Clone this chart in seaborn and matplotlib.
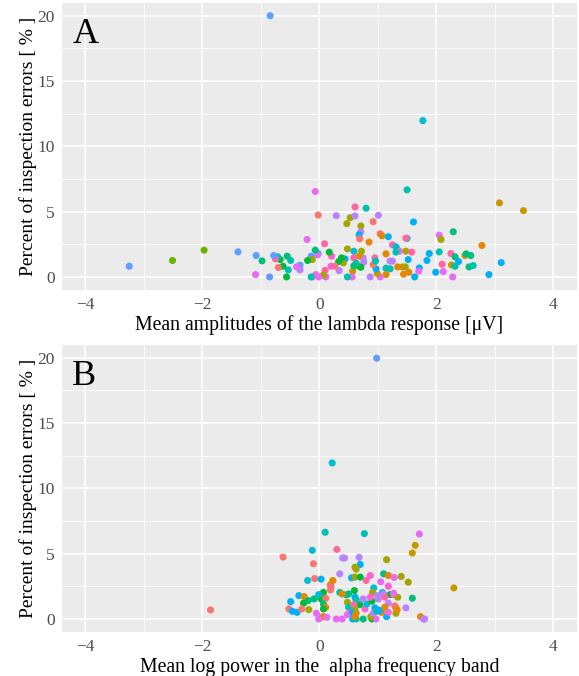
import numpy as np
import pandas as pd
import seaborn as sns
import matplotlib.pyplot as plt
from matplotlib.ticker import MultipleLocator

# ggplot2 hue_pal()(15), one colour per subject
subject_colors = ['#F8766D', '#E58700', '#C99800', '#A3A500', '#6BB100',
                  '#00BA38', '#00BF7D', '#00C0AF', '#00BCD8', '#00B0F6',
                  '#619CFF', '#B983FF', '#E76BF3', '#FD61D1', '#FF67A4']
subjects = [f'S{i + 1:02d}' for i in range(len(subject_colors))]

# Panel A: lambda response amplitude vs inspection errors
a_x = [-0.84, 1.77, -0.07, 1.50, 3.08, 3.49, 0.61, 0.80, -0.02, 0.29,
       0.53, 0.61, 1.01, 0.92, 0.47, 1.61, 0.71, 0.71, 0.68, 0.69,
       0.85, 1.04, 1.07, 1.18, 1.50, 1.48, -0.21, 0.09, 1.25, 1.31,
       1.33, 1.37, 1.48, 1.58, 2.05, 2.08, 2.29, 2.78, 1.88, 2.05,
       2.25, 2.32, 2.49, 2.51, 2.59, 1.84, 2.10, 2.26, 2.32, 2.38,
       2.56, 2.63, 3.11, 2.90, 1.99, 2.12, 2.28, 1.63, 1.71, 1.52,
       1.42, 1.34, 1.47, 1.44, 1.53, 1.14, 1.21, 1.25, 1.14, 1.21,
       1.14, 1.04, 0.99, 0.97, 0.95, 0.92, 0.87, 0.76, 0.75, 0.68,
       0.67, 0.71, 0.72, 0.59, 0.59, 0.57, 0.56, 0.48, 0.48, 0.44,
       0.41, 0.38, 0.33, 0.34, 0.27, 0.20, 0.21, 0.17, 0.10, 0.11,
       0.07, -0.02, -0.03, -0.07, -0.06, -0.12, -0.14, -0.01, -0.14, -0.12,
       -0.20, -0.33, -0.33, -0.39, -0.49, -0.53, -0.55, -0.56, -0.62, -0.67,
       -0.71, -0.70, -0.75, -0.78, -0.85, -0.98, -1.08, -1.09, -1.39, -1.97,
       -2.51, -3.25, 1.70, 1.31, 0.63, 0.59, 0.96]
a_y = [20.0, 11.97, 6.54, 6.67, 5.67, 5.08, 5.36, 5.26, 4.74, 4.69,
       4.54, 4.67, 4.72, 4.23, 4.08, 4.21, 3.90, 3.46, 3.23, 2.92,
       2.67, 3.31, 3.15, 3.08, 2.95, 2.97, 2.87, 2.54, 2.46, 2.31,
       2.10, 1.97, 1.97, 1.90, 3.20, 2.87, 3.46, 2.41, 1.79, 1.92,
       1.79, 1.54, 1.64, 1.77, 1.64, 1.26, 0.97, 0.92, 0.82, 1.18,
       0.77, 0.87, 1.10, 0.18, 0.36, 0.41, 0.00, 0.00, 0.69, 1.33,
       0.77, 0.77, 0.77, 0.21, 0.36, 1.77, 1.21, 1.21, 0.67, 0.62,
       0.18, 0.00, 0.26, 0.62, 1.46, 0.95, 0.00, 1.13, 1.46, 1.59,
       0.82, 0.74, 1.97, 1.97, 1.46, 0.44, 0.00, 0.00, 2.15, 1.38,
       1.08, 1.46, 1.18, 0.49, 0.82, 0.82, 1.59, 1.90, 0.51, 0.00,
       0.15, 1.79, 1.69, 2.05, 0.18, 0.00, 0.00, 0.00, 1.59, 1.33,
       1.26, 0.90, 0.54, 0.77, 1.26, 0.54, 1.59, 0.00, 0.82, 1.33,
       1.54, 0.72, 1.38, 1.64, 0.00, 1.23, 1.64, 0.18, 1.92, 2.05,
       1.26, 0.82, 0.44, 1.90, 1.05, 0.85, 1.21]
a_subj = [10, 8, 12, 7, 2, 2, 14, 7, 0, 11,
          3, 11, 11, 0, 3, 9, 3, 11, 9, 0,
          1, 0, 1, 9, 8, 14, 12, 14, 14, 8,
          7, 12, 3, 14, 12, 3, 6, 1, 9, 7,
          14, 6, 2, 6, 6, 9, 14, 2, 7, 9,
          6, 7, 9, 9, 9, 12, 12, 9, 9, 9,
          2, 1, 3, 1, 1, 1, 11, 11, 7, 7,
          1, 12, 2, 9, 14, 0, 11, 11, 11, 1,
          3, 5, 3, 8, 14, 2, 12, 7, 3, 9,
          3, 5, 5, 11, 0, 13, 13, 5, 14, 12,
          3, 10, 12, 6, 12, 14, 7, 12, 10, 3,
          5, 10, 11, 12, 7, 7, 6, 5, 5, 5,
          7, 0, 14, 10, 10, 6, 10, 12, 10, 4,
          4, 10, 12, 7, 7, 6, 7]

# Panel B: alpha band log power vs inspection errors
b_x = [0.98, 0.22, 0.10, 0.77, 1.71, 1.64, 1.59, -0.62, -0.12, 0.30,
       0.40, 0.43, 0.68, -0.10, 0.70, 0.61, 0.63, 1.15, 0.35, -0.20,
       -0.08, 0.03, 0.23, 0.19, 0.20, 0.55, 0.61, 0.70, 0.80, 0.87,
       1.05, 1.10, 1.18, 1.28, 1.40, 1.52, 1.18, 2.30, 0.93, 0.60,
       0.35, 0.46, 0.50, 0.07, 0.91, 1.08, 0.99, 1.21, 1.27, 1.34,
       1.59, 1.48, -0.35, -0.26, -0.09, -0.19, -0.27, -0.49, -0.52, -0.46,
       -0.38, -0.30, -0.18, -1.86, 0.03, 0.11, 0.07, 0.11, 0.07, -0.05,
       0.01, 0.07, 0.13, 0.29, 0.39, -0.01, 0.57, 0.63, 0.75, 0.90,
       0.97, 0.88, 1.15, 1.73, 1.78, 1.80, 1.31, 1.31, 1.18, 1.06,
       1.01, 0.95, 1.18, 1.29, 0.78, 0.69, 0.81, 0.90, 0.75, 0.61,
       0.63, 0.48, 0.50, 0.59, 0.61, 0.52, 0.48, 0.57, 0.63, 0.61,
       0.92, 0.98, 1.03, 1.12, 1.33, 0.87, 1.01, 1.10, 1.12, 0.19,
       -0.01, 0.39, 1.27]
b_y = [19.97, 11.95, 6.64, 6.54, 6.51, 5.64, 5.05, 4.74, 5.26, 5.33,
       4.67, 4.67, 4.72, 4.23, 4.18, 3.97, 3.82, 4.54, 3.46, 2.95,
       3.10, 3.05, 2.95, 2.62, 2.44, 3.15, 3.21, 3.21, 2.95, 3.33,
       2.85, 3.46, 3.33, 3.18, 3.26, 2.82, 2.51, 2.38, 2.38, 2.18,
       2.03, 1.85, 1.92, 2.03, 2.03, 2.03, 1.79, 1.87, 1.87, 1.67,
       1.59, 0.85, 1.79, 1.72, 1.54, 1.41, 1.21, 1.33, 0.77, 0.59,
       0.51, 0.77, 0.72, 0.69, 1.54, 1.59, 1.15, 0.90, 0.77, 0.44,
       0.13, 0.18, 0.13, 0.00, 0.00, 0.00, 0.00, 0.00, 0.00, 0.00,
       0.00, 0.18, 0.18, 0.18, 0.00, 0.00, 0.44, 0.85, 0.51, 0.51,
       0.69, 0.85, 1.21, 1.00, 0.77, 1.10, 1.15, 1.36, 1.54, 1.67,
       1.46, 1.28, 0.90, 1.10, 0.69, 0.49, 0.33, 0.51, 0.44, 0.18,
       0.44, 0.59, 0.64, 0.90, 0.69, 1.67, 1.54, 1.92, 1.67, 2.23,
       1.87, 1.92, 1.97]
b_subj = [10, 8, 7, 7, 12, 2, 2, 0, 8, 14,
          11, 11, 11, 0, 9, 3, 3, 3, 11, 8,
          0, 9, 1, 1, 14, 9, 3, 5, 14, 13,
          12, 6, 1, 12, 3, 3, 13, 2, 8, 5,
          7, 7, 6, 5, 3, 8, 11, 5, 14, 3,
          6, 11, 9, 1, 6, 6, 5, 9, 0, 9,
          9, 0, 3, 0, 5, 0, 6, 1, 5, 12,
          12, 1, 12, 12, 12, 12, 9, 7, 6, 5,
          12, 3, 9, 1, 11, 11, 3, 3, 12, 1,
          8, 9, 11, 0, 13, 5, 8, 5, 11, 9,
          7, 3, 7, 14, 3, 13, 12, 9, 2, 1,
          11, 7, 9, 1, 1, 13, 11, 11, 14, 0,
          8, 1, 12]

panels = [
    ('A', a_x, a_y, a_subj, 'Mean amplitudes of the lambda response [\u03bcV]'),
    ('B', b_x, b_y, b_subj, 'Mean log power in the  alpha frequency band'),
]

sns.set_theme(style='darkgrid', rc={
    'axes.facecolor': '#EBEBEB',
    'grid.color': 'white',
    'axes.edgecolor': '#EBEBEB',
})
plt.rcParams['font.family'] = ['Liberation Serif', 'DejaVu Serif']

palette = dict(zip(subjects, subject_colors))

fig = plt.figure(figsize=(5.79, 6.76), dpi=100)
axes = [fig.add_axes([0.107, 0.571, 0.889, 0.425]),
        fig.add_axes([0.107, 0.065, 0.889, 0.425])]

for ax, (letter, xs, ys, subj, xlabel) in zip(axes, panels):
    df = pd.DataFrame({'x': xs, 'y': ys,
                       'subject': [subjects[i] for i in subj]})
    sns.scatterplot(data=df, x='x', y='y', hue='subject', palette=palette,
                    s=26, linewidth=0, alpha=1, legend=False, ax=ax, zorder=3)
    ax.set_xlim(-4.4, 4.4)
    ax.set_ylim(-1.0, 21.0)
    ax.xaxis.set_major_locator(MultipleLocator(2))
    ax.xaxis.set_minor_locator(MultipleLocator(1))
    ax.yaxis.set_major_locator(MultipleLocator(5))
    ax.yaxis.set_minor_locator(MultipleLocator(2.5))
    ax.set_xticks([-4, -2, 0, 2, 4])
    ax.set_xticklabels(['\u22124', '\u22122', '0', '2', '4'])
    ax.grid(which='major', color='white', linewidth=1.1)
    ax.grid(which='minor', color='white', linewidth=0.55)
    ax.tick_params(which='major', length=3, width=0.8, color='#333333',
                   labelsize=12.5, labelcolor='#4D4D4D', pad=2)
    ax.tick_params(which='minor', length=0)
    ax.set_xlabel(xlabel, fontsize=14.2, color='black', labelpad=1.5)
    ax.set_ylabel('Percent of inspection errors [ % ]', fontsize=14,
                  color='black', labelpad=0.5)
    ax.text(0.02, 0.948, letter, transform=ax.transAxes, fontsize=26,
            va='top', ha='left', color='black')
    for sp in ax.spines.values():
        sp.set_visible(False)

fig.savefig('out.png', dpi=100)
